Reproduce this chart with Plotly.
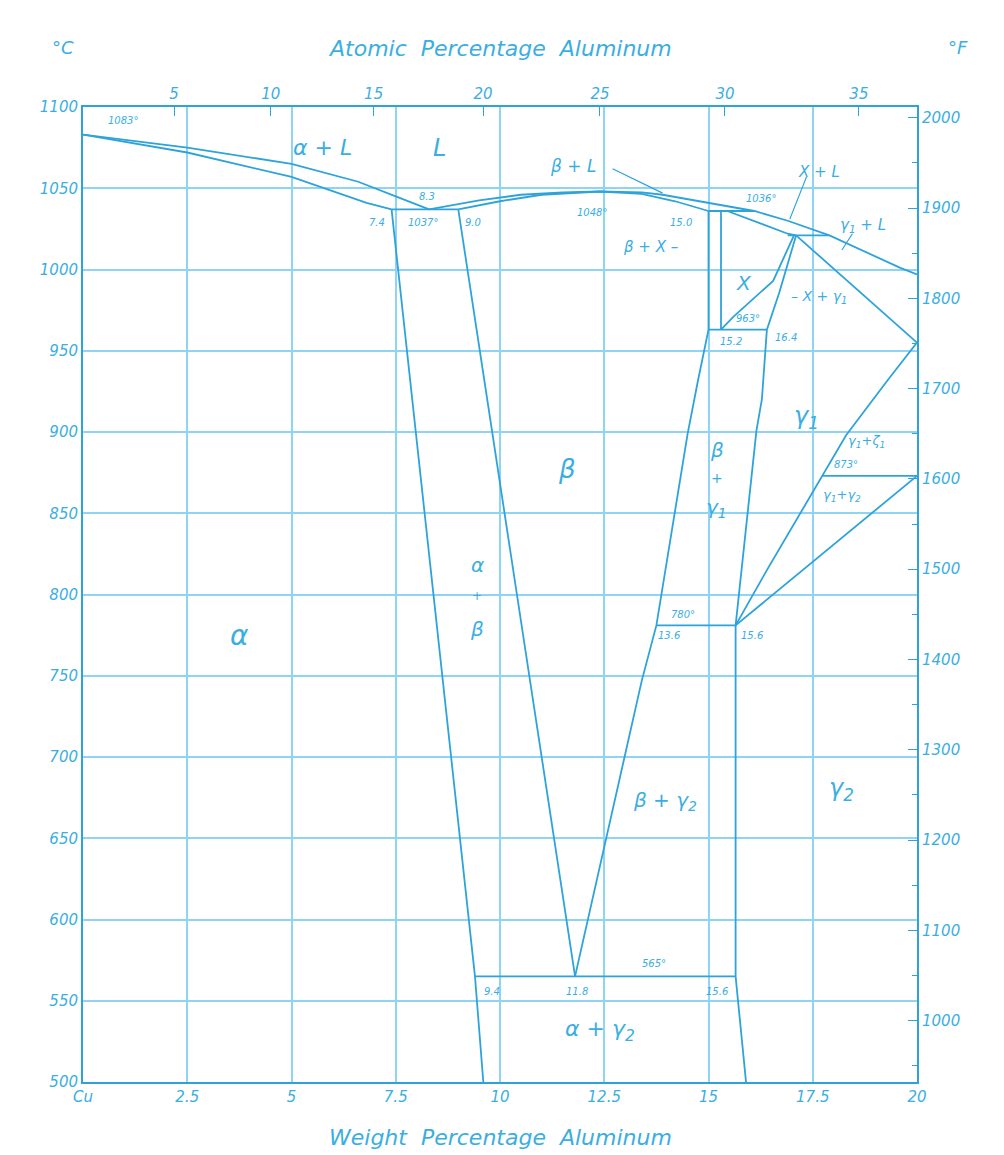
import plotly.graph_objects as go

LINE = "#2ea3da"
GRID = "#8fd4f2"
TXT = "#3aaee2"
FONT = "DejaVu Sans"

# ---------------- data: phase boundaries (wt% Al, deg C) ----------------
liq_alpha_w = [0, 2.5, 5.0, 6.6, 7.5, 8.3]
liq_alpha_t = [1083, 1075, 1065, 1054, 1045, 1037]
sol_alpha_w = [0, 2.5, 5.0, 6.0, 6.8, 7.4]
sol_alpha_t = [1083, 1072, 1057, 1048, 1041, 1037]
eutectic_w = [7.4, 9.0]
eutectic_t = [1037, 1037]
alpha_solvus_w = [7.4, 8.4, 9.4, 9.6]
alpha_solvus_t = [1037, 800, 565, 500]
beta_left_w = [9.0, 10.4, 11.8]
beta_left_t = [1037, 800, 565]
beta_right_w = [11.8, 13.4, 13.75, 14.5, 14.75, 15.0, 15.0]
beta_right_t = [565, 747, 781, 899, 932, 963, 1036]
liq_beta_w = [8.3, 9.5, 10.5, 11.5, 12.4, 13.4, 13.9, 15.0, 16.1, 16.9, 17.9, 19.6, 20.0]
liq_beta_t = [1037, 1042.5, 1046, 1047.5, 1048, 1047.5, 1046, 1041, 1036, 1030, 1021, 1001, 997]
sol_beta_w = [9.0, 10.0, 11.0, 12.4, 13.4, 14.2, 15.0]
sol_beta_t = [1037, 1042, 1046, 1048, 1046.5, 1042, 1036]
peritectic1_w = [15.0, 16.1]
peritectic1_t = [1036, 1036]
chi_left_w = [15.3, 15.3]
chi_left_t = [1036, 963]
chi_sol_w = [15.45, 16.9, 17.1]
chi_sol_t = [1036, 1022, 1021]
peritectic2_w = [16.9, 17.9]
peritectic2_t = [1021, 1021]
chi_right_w = [15.3, 15.6, 16.55, 17.05]
chi_right_t = [963, 971, 993, 1021]
eutectoid963_w = [15.0, 16.4]
eutectoid963_t = [963, 963]
gamma1_left_w = [17.1, 16.7, 16.4, 16.28, 16.15, 15.65, 15.65, 15.9]
gamma1_left_t = [1021, 986, 963, 920, 901, 781, 565, 500]
gamma1_sol_w = [17.1, 20.0]
gamma1_sol_t = [1021, 955]
upper_diag_w = [15.65, 16.4, 18.3, 19.3, 20.0]
upper_diag_t = [781, 815, 898, 932, 955]
lower_diag_w = [15.65, 20.0]
lower_diag_t = [781, 873]
h873_w = [17.73, 20.0]
h873_t = [873, 873]
h780_w = [13.75, 15.65]
h780_t = [781, 781]
eutectoid565_w = [9.4, 15.65]
eutectoid565_t = [565, 565]

boundaries = [
    (liq_alpha_w, liq_alpha_t), (sol_alpha_w, sol_alpha_t), (eutectic_w, eutectic_t),
    (alpha_solvus_w, alpha_solvus_t), (beta_left_w, beta_left_t), (beta_right_w, beta_right_t),
    (liq_beta_w, liq_beta_t), (sol_beta_w, sol_beta_t), (peritectic1_w, peritectic1_t),
    (chi_left_w, chi_left_t), (chi_sol_w, chi_sol_t), (peritectic2_w, peritectic2_t),
    (chi_right_w, chi_right_t), (eutectoid963_w, eutectoid963_t), (gamma1_left_w, gamma1_left_t),
    (gamma1_sol_w, gamma1_sol_t), (upper_diag_w, upper_diag_t), (lower_diag_w, lower_diag_t),
    (h873_w, h873_t), (h780_w, h780_t), (eutectoid565_w, eutectoid565_t),
]

# leader lines next to region labels (wt%, degC)
leader_w = [[12.7, 13.9], [17.35, 16.95], [18.45, 18.2]]
leader_t = [[1062, 1047], [1057, 1031], [1022, 1012]]

# ---------------- axis ticks ----------------
wt_ticks = [0, 2.5, 5, 7.5, 10, 12.5, 15, 17.5, 20]
wt_labels = ["Cu", "2.5", "5", "7.5", "10", "12.5", "15", "17.5", "20"]
at_ticks = [5, 10, 15, 20, 25, 30, 35]
c_ticks = list(range(500, 1101, 50))
f_ticks = list(range(1000, 2001, 100))

def at_to_wt(a):
    return a * 26.98 / (a * 26.98 + (100 - a) * 63.55) * 100

# ---------------- region / point labels (wt%, degC, text, size) ----------------
labels = [
    (5.75, 1075, "α + L", 22), (8.56, 1075, "L", 24), (11.75, 1064, "β + L", 17),
    (17.65, 1060, "X + L", 15), (18.7, 1027, "γ<sub>1</sub> + L", 15),
    (13.6, 1014, "β + X –", 15), (15.85, 992, "X", 20), (17.65, 983, "– X + γ<sub>1</sub>", 14),
    (17.36, 909, "γ<sub>1</sub>", 24), (18.8, 894, "γ<sub>1</sub>+ζ<sub>1</sub>", 13),
    (18.2, 861, "γ<sub>1</sub>+γ<sub>2</sub>", 13),
    (15.2, 889, "β", 20), (15.2, 872, "+", 14), (15.2, 853, "γ<sub>1</sub>", 20),
    (11.6, 877, "β", 26), (9.45, 818, "α", 20), (9.45, 799, "+", 12), (9.45, 779, "β", 20),
    (3.75, 775, "α", 28), (13.95, 673, "β + γ<sub>2</sub>", 20), (18.2, 680, "γ<sub>2</sub>", 24),
    (12.4, 532, "α + γ<sub>2</sub>", 22),
]
numbers = [
    (0.95, 1092, "1083°"), (8.25, 1045, "8.3"), (7.05, 1029, "7.4"), (8.15, 1029, "1037°"),
    (9.35, 1029, "9.0"), (12.2, 1035, "1048°"), (14.35, 1029, "15.0"), (16.25, 1044, "1036°"),
    (15.95, 970, "963°"), (15.55, 956, "15.2"), (16.85, 958, "16.4"), (18.3, 880, "873°"),
    (14.4, 788, "780°"), (14.05, 775, "13.6"), (16.05, 775, "15.6"), (13.7, 573, "565°"),
    (9.8, 556, "9.4"), (11.85, 556, "11.8"), (15.2, 556, "15.6"),
]

fig = go.Figure()
for w, t in boundaries:
    fig.add_trace(go.Scatter(x=w, y=t, mode="lines", line=dict(color=LINE, width=1.8),
                             hoverinfo="skip", showlegend=False))
for w, t in zip(leader_w, leader_t):
    fig.add_trace(go.Scatter(x=w, y=t, mode="lines", line=dict(color=LINE, width=1.2),
                             hoverinfo="skip", showlegend=False))

# invisible trace to activate secondary axes
fig.add_trace(go.Scatter(x=[0, 20], y=[932, 2012], xaxis="x2", yaxis="y2", mode="markers",
                         marker=dict(opacity=0), hoverinfo="skip", showlegend=False))

for x, y, s, sz in labels:
    fig.add_annotation(x=x, y=y, text=s, showarrow=False,
                       font=dict(family=FONT, size=sz, color=TXT, style="italic"))
for x, y, s in numbers:
    fig.add_annotation(x=x, y=y, text=s, showarrow=False,
                       font=dict(family=FONT, size=10, color=TXT, style="italic"))

axis_font = dict(family=FONT, size=15, color=TXT, style="italic")
# page body has an 8px default margin: shrink the figure so the plot lands where the reference's does
fig.update_layout(
    width=996, height=1147,
    margin=dict(l=75, r=87, t=99, b=73),
    font=dict(family=FONT, size=15, color=TXT),
    paper_bgcolor="white", plot_bgcolor="white",
    xaxis=dict(range=[0, 20], tickvals=wt_ticks, ticktext=wt_labels, showgrid=True,
               gridcolor=GRID, gridwidth=1.8, showline=True, linecolor=LINE, linewidth=2,
               zeroline=False, tickfont=axis_font, ticks=""),
    yaxis=dict(range=[500, 1100], tickvals=c_ticks, showgrid=True, gridcolor=GRID,
               gridwidth=1.8, showline=True, linecolor=LINE, linewidth=2, zeroline=False,
               tickfont=axis_font, ticks=""),
    xaxis2=dict(range=[0, 20], overlaying="x", side="top",
                tickvals=[at_to_wt(a) for a in at_ticks], ticktext=[str(a) for a in at_ticks],
                ticks="inside", ticklen=9, tickcolor=LINE, showgrid=False, showline=True,
                linecolor=LINE, linewidth=2, zeroline=False, tickfont=axis_font),
    yaxis2=dict(range=[932, 2012], overlaying="y", side="right", tickvals=f_ticks,
                ticks="inside", ticklen=9, tickcolor=LINE, showgrid=False, showline=True,
                linecolor=LINE, linewidth=2, zeroline=False, tickfont=axis_font,
                minor=dict(dtick=50, ticklen=5, tickcolor=LINE, ticks="inside")),
)

title_font = dict(family=FONT, size=22, color=TXT, style="italic")
fig.add_annotation(xref="paper", yref="paper", x=0.5, y=1.0, yshift=59, yanchor="middle",
                   text="Atomic  Percentage  Aluminum", showarrow=False, font=title_font)
fig.add_annotation(xref="paper", yref="paper", x=0.5, y=0.0, yshift=-55, yanchor="middle",
                   text="Weight  Percentage  Aluminum", showarrow=False, font=title_font)
fig.add_annotation(xref="paper", yref="paper", x=0.0, xshift=-33, y=1.0, yshift=60, yanchor="middle",
                   text="°C", showarrow=False, font=dict(family=FONT, size=18, color=TXT, style="italic"))
fig.add_annotation(xref="paper", yref="paper", x=1.0, xshift=53, y=1.0, yshift=60, yanchor="middle",
                   text="°F", showarrow=False, font=dict(family=FONT, size=18, color=TXT, style="italic"))

fig.write_html("out.html")
